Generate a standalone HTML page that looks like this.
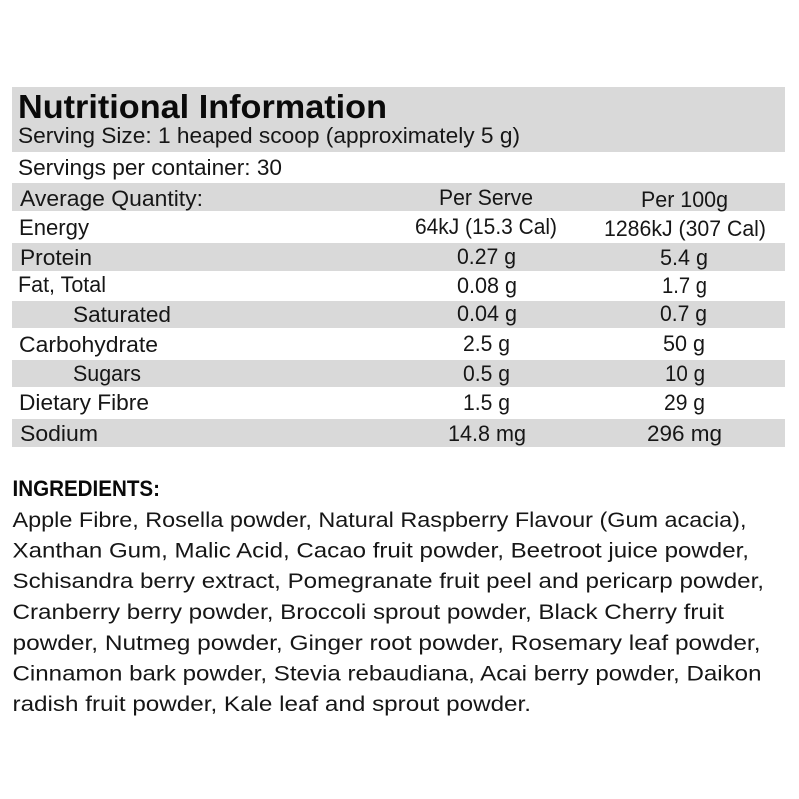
<!DOCTYPE html>
<html>
<head>
<meta charset="utf-8">
<style>
  html, body { margin:0; padding:0; background:#fff; }
  svg { display:block; }
  text { font-family: "Liberation Sans", sans-serif; fill:#161616; }
  .b { font-weight:bold; }
</style>
</head>
<body>
<svg width="799" height="799" viewBox="0 0 799 799" xmlns="http://www.w3.org/2000/svg">
  <rect width="799" height="799" fill="#ffffff"/>
  <!-- gray bands -->
  <g fill="#d9d9d9">
    <rect x="12" y="87" width="773" height="65"/>
    <rect x="12" y="183" width="773" height="28"/>
    <rect x="12" y="243" width="773" height="28"/>
    <rect x="12" y="301" width="773" height="27"/>
    <rect x="12" y="360" width="773" height="27"/>
    <rect x="12" y="419" width="773" height="28"/>
  </g>

  <text class="b" x="18" y="118" font-size="33" textLength="369" lengthAdjust="spacingAndGlyphs" style="fill:#0a0a0a">Nutritional Information</text>
  <text x="18" y="143" font-size="22" textLength="502" lengthAdjust="spacingAndGlyphs">Serving Size: 1 heaped scoop (approximately 5 g)</text>
  <text x="18" y="175" font-size="22" textLength="264" lengthAdjust="spacingAndGlyphs">Servings per container: 30</text>

  <g font-size="22">
    <text x="20" y="206" textLength="183" lengthAdjust="spacingAndGlyphs">Average Quantity:</text>
    <text x="439" y="205" textLength="94" lengthAdjust="spacingAndGlyphs">Per Serve</text>
    <text x="641" y="207" textLength="87" lengthAdjust="spacingAndGlyphs">Per 100g</text>

    <text x="19" y="235" textLength="70" lengthAdjust="spacingAndGlyphs">Energy</text>
    <text x="415" y="234" textLength="142" lengthAdjust="spacingAndGlyphs">64kJ (15.3 Cal)</text>
    <text x="604" y="236" textLength="162" lengthAdjust="spacingAndGlyphs">1286kJ (307 Cal)</text>

    <text x="20" y="265" textLength="72" lengthAdjust="spacingAndGlyphs">Protein</text>
    <text x="457" y="264" textLength="59" lengthAdjust="spacingAndGlyphs">0.27 g</text>
    <text x="660" y="265" textLength="48" lengthAdjust="spacingAndGlyphs">5.4 g</text>

    <text x="18" y="292" textLength="88" lengthAdjust="spacingAndGlyphs">Fat, Total</text>
    <text x="457" y="293" textLength="60" lengthAdjust="spacingAndGlyphs">0.08 g</text>
    <text x="662" y="293" textLength="45" lengthAdjust="spacingAndGlyphs">1.7 g</text>

    <text x="73" y="322" textLength="98" lengthAdjust="spacingAndGlyphs">Saturated</text>
    <text x="457" y="321" textLength="60" lengthAdjust="spacingAndGlyphs">0.04 g</text>
    <text x="660" y="321" textLength="47" lengthAdjust="spacingAndGlyphs">0.7 g</text>

    <text x="19" y="352" textLength="139" lengthAdjust="spacingAndGlyphs">Carbohydrate</text>
    <text x="463" y="351" textLength="47" lengthAdjust="spacingAndGlyphs">2.5 g</text>
    <text x="663" y="351" textLength="42" lengthAdjust="spacingAndGlyphs">50 g</text>

    <text x="73" y="381" textLength="68" lengthAdjust="spacingAndGlyphs">Sugars</text>
    <text x="463" y="381" textLength="47" lengthAdjust="spacingAndGlyphs">0.5 g</text>
    <text x="665" y="381" textLength="40" lengthAdjust="spacingAndGlyphs">10 g</text>

    <text x="19" y="410" textLength="130" lengthAdjust="spacingAndGlyphs">Dietary Fibre</text>
    <text x="463" y="410" textLength="47" lengthAdjust="spacingAndGlyphs">1.5 g</text>
    <text x="664" y="410" textLength="41" lengthAdjust="spacingAndGlyphs">29 g</text>

    <text x="20" y="441" textLength="78" lengthAdjust="spacingAndGlyphs">Sodium</text>
    <text x="448" y="441" textLength="78" lengthAdjust="spacingAndGlyphs">14.8 mg</text>
    <text x="647" y="441" textLength="75" lengthAdjust="spacingAndGlyphs">296 mg</text>
  </g>

  <text class="b" x="12.5" y="496" font-size="22" textLength="147.5" lengthAdjust="spacingAndGlyphs" style="fill:#0a0a0a">INGREDIENTS:</text>
  <g font-size="21">
    <text x="12.5" y="527" textLength="734" lengthAdjust="spacingAndGlyphs">Apple Fibre, Rosella powder, Natural Raspberry Flavour (Gum acacia),</text>
    <text x="12.5" y="557.5" textLength="736.5" lengthAdjust="spacingAndGlyphs">Xanthan Gum, Malic Acid, Cacao fruit powder, Beetroot juice powder,</text>
    <text x="12.5" y="588" textLength="751.5" lengthAdjust="spacingAndGlyphs">Schisandra berry extract, Pomegranate fruit peel and pericarp powder,</text>
    <text x="12.5" y="619" textLength="711.5" lengthAdjust="spacingAndGlyphs">Cranberry berry powder, Broccoli sprout powder, Black Cherry fruit</text>
    <text x="12.5" y="650" textLength="748" lengthAdjust="spacingAndGlyphs">powder, Nutmeg powder, Ginger root powder, Rosemary leaf powder,</text>
    <text x="12.5" y="680.5" textLength="749" lengthAdjust="spacingAndGlyphs">Cinnamon bark powder, Stevia rebaudiana, Acai berry powder, Daikon</text>
    <text x="12.5" y="711" textLength="518.5" lengthAdjust="spacingAndGlyphs">radish fruit powder, Kale leaf and sprout powder.</text>
  </g>
</svg>
</body>
</html>
